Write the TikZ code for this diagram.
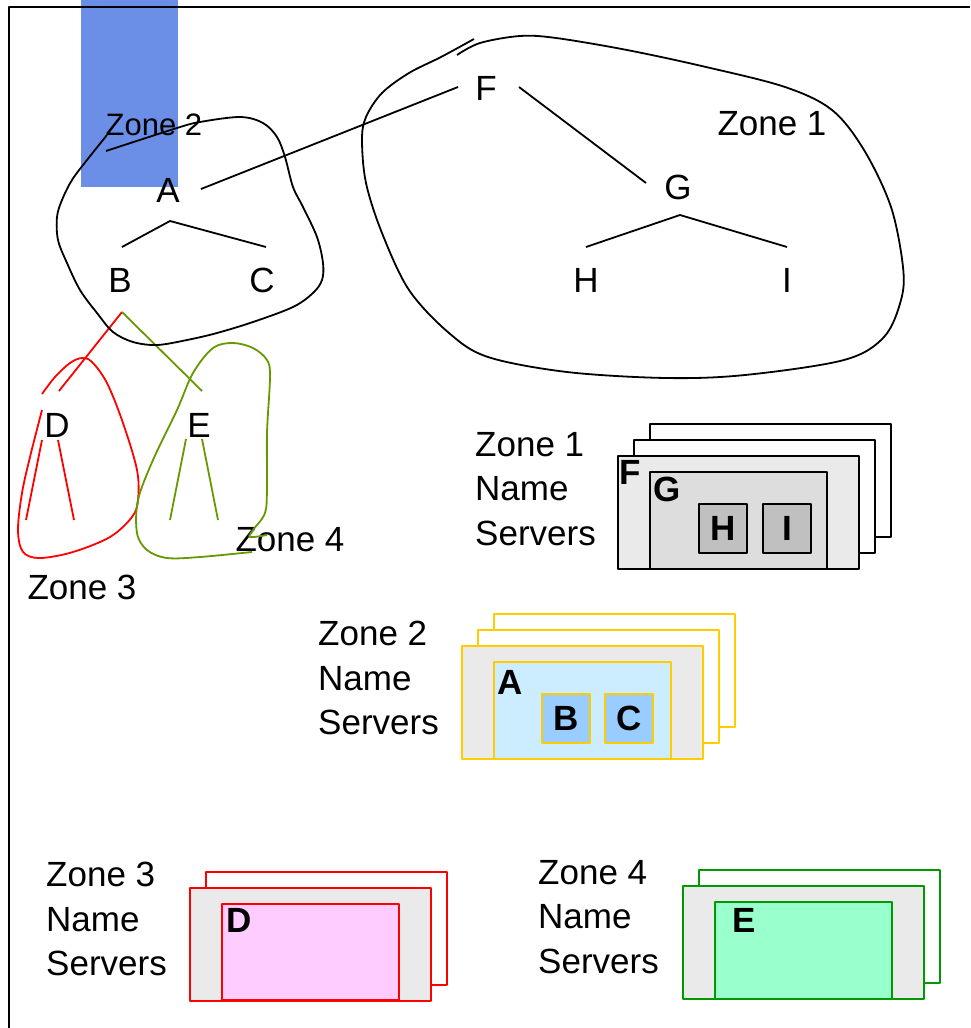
\documentclass[tikz,border=0pt]{standalone}
\usepackage{fontspec}
\setmainfont{Liberation Sans}
\usetikzlibrary{calc,positioning}

\definecolor{zonetwoblue}{RGB}{107,142,230}
\definecolor{panelgray}{RGB}{234,234,234}
\definecolor{ggray}{RGB}{221,221,221}
\definecolor{hgray}{RGB}{192,192,192}
\definecolor{zonegold}{RGB}{255,204,0}
\definecolor{alight}{RGB}{204,236,255}
\definecolor{bcblue}{RGB}{153,204,255}
\definecolor{dpink}{RGB}{255,204,255}
\definecolor{emint}{RGB}{153,255,204}
\definecolor{srvgreen}{RGB}{0,153,0}
\definecolor{treegreen}{RGB}{102,153,0}

\begin{document}
\begin{tikzpicture}[x=1pt, y=-1pt, line join=round,
    letter/.style={inner sep=0pt, font=\fontsize{35}{42}\selectfont},
    stacktext/.style={inner sep=0pt, align=left, anchor=west, font=\fontsize{35}{44.5}\selectfont},
    srv/.style={draw, rectangle, anchor=north west, inner sep=0pt, line width=1.8pt,
        minimum width=241pt, minimum height=113pt},
    zonebox/.style={srv, minimum width=177pt, minimum height=97pt},
    leafbox/.style={srv, minimum width=48pt, minimum height=49pt, font=\fontsize{35}{42}\selectfont\bfseries},
    tag/.style={inner sep=0pt, font=\fontsize{35}{42}\selectfont\bfseries},
    tree/.style={line width=1.8pt},
    blob/.style={line width=1.8pt}]
    \useasboundingbox (0,0) rectangle (970,1028);

    % Background and frame
    \fill[zonetwoblue] (81,0) rectangle (178,187);
    \draw[line width=2pt] (9,1028) -- (9,7) -- (970,7);

    % Tree nodes
    \node[letter] (f) at (486,88) {F};
    \node[letter] (g) at (678,187) {G};
    \node[letter] (h) at (586,280) {H};
    \node[letter] (i) at (787,280) {I};
    \node[letter] (a) at (168,190) {A};
    \node[letter] (b) at (120,280) {B};
    \node[letter] (c) at (262,280) {C};
    \node[letter] (d) at (57,425) {D};
    \node[letter] (e) at (199,425) {E};

    % Zone labels
    \node[letter] (zone1-lbl) at (772,124) {Zone 1};
    \node[letter, font=\fontsize{31}{38}\selectfont] (zone2-lbl) at (154,125) {Zone 2};
    \node[letter] (zone3-lbl) at (82,587) {Zone 3};
    \node[letter] (zone4-lbl) at (290,540) {Zone 4};

    % Tree edges
    \draw[tree] ($(a)+(33,-1)$) -- ($(f)+(-28,-1)$);
    \draw[tree] ($(f)+(33,-1)$) -- ($(g)+(-32,-4)$);
    \draw[tree] ($(b)+(2,-33)$) -- ($(a)+(2,31)$) -- ($(c)+(4,-33)$);
    \draw[tree] ($(h)+(0,-33)$) -- ($(g)+(2,28)$) -- ($(i)+(0,-33)$);
    \draw[tree, red] ($(b)+(2,32)$) -- ($(d)+(2,-34)$);
    \draw[tree, treegreen] ($(b)+(2,32)$) -- ($(e)+(3,-34)$);
    \draw[tree, red] ($(d)+(-15,15)$) -- ($(d)+(-31,95)$);
    \draw[tree, red] ($(d)+(1,15)$) -- ($(d)+(17,95)$);
    \draw[tree, treegreen] ($(e)+(-13,14)$) -- ($(e)+(-29,95)$);
    \draw[tree, treegreen] ($(e)+(3,14)$) -- ($(e)+(19,95)$);

    % Zone outlines
    \draw[blob] plot[smooth, tension=0.55] coordinates {(457,55) (480,43) (520,36) (556,38)
        (627,50) (706,67) (785,87) (832,110) (864,150) (891,207) (903,267) (901,300)
        (884,337) (844,360) (745,375) (666,378) (567,372) (488,357) (449,333) (409,290)
        (382,233) (366,183) (362,140) (366,117) (382,93) (409,73) (441,57) (474,39)};
    \draw[blob] plot[smooth, tension=0.55] coordinates {(106,151) (177,128) (200,122)
        (240,117) (263,123) (277,137) (285,157) (293,187) (303,207) (317,237) (323,263)
        (322,280) (313,293) (293,307) (253,322) (217,333) (187,340) (157,345) (133,342)
        (113,332) (97,313) (80,290) (67,263) (58,240) (57,217) (62,200) (72,180) (87,160)
        (107,135)};
    \draw[blob, red] plot[smooth, tension=0.55] coordinates {(42,394) (55,377) (70,363)
        (82,358) (92,362) (107,383) (123,423) (137,470) (138,500) (132,517) (110,537)
        (73,552) (40,558) (23,552) (18,530) (22,493) (30,457) (42,410)};
    \draw[blob, treegreen] plot[smooth, tension=0.55] coordinates {(252,552) (200,557)
        (167,558) (147,550) (137,533) (138,500) (153,460) (177,410) (193,373) (213,348)
        (233,343) (253,348) (267,360) (270,377) (267,433) (267,487) (265,513) (253,530)
        (250,537) (267,535)};

    % Zone 1 name servers
    \node[stacktext] (z1-text) at (475,489) {Zone 1\\Name\\Servers};
    \coordinate (z1) at (617,455);
    \node[srv, fill=white] (z1-back) at ([shift={(32,-32)}]z1) {};
    \node[srv, fill=white] (z1-mid) at ([shift={(16,-16)}]z1) {};
    \node[srv, fill=panelgray] (z1-front) at (z1) {};
    \node[zonebox, fill=ggray] (z1-g) at ([shift={(32,16)}]z1-front.north west) {};
    \node[leafbox, fill=hgray] (z1-h) at ([shift={(49,32)}]z1-g.north west) {H};
    \node[leafbox, fill=hgray] (z1-i) at ([shift={(113,32)}]z1-g.north west) {I};
    \node[tag] at ([shift={(13,17)}]z1-front.north west) {F};
    \node[tag] at ([shift={(18,18)}]z1-g.north west) {G};

    % Zone 2 name servers
    \node[stacktext] (z2-text) at (318,678) {Zone 2\\Name\\Servers};
    \coordinate (z2) at (461,645);
    \node[srv, draw=zonegold, fill=white] (z2-back) at ([shift={(32,-32)}]z2) {};
    \node[srv, draw=zonegold, fill=white] (z2-mid) at ([shift={(16,-16)}]z2) {};
    \node[srv, draw=zonegold, fill=panelgray] (z2-front) at (z2) {};
    \node[zonebox, draw=zonegold, fill=alight] (z2-a) at ([shift={(32,16)}]z2-front.north west) {};
    \node[leafbox, draw=zonegold, fill=bcblue] (z2-b) at ([shift={(48,32)}]z2-a.north west) {B};
    \node[leafbox, draw=zonegold, fill=bcblue] (z2-c) at ([shift={(111,32)}]z2-a.north west) {C};
    \node[tag] at ([shift={(17,21)}]z2-a.north west) {A};

    % Zone 3 name servers
    \node[stacktext] (z3-text) at (46,919) {Zone 3\\Name\\Servers};
    \coordinate (z3) at (189,887);
    \node[srv, draw=red, fill=white] (z3-back) at ([shift={(16,-16)}]z3) {};
    \node[srv, draw=red, fill=panelgray] (z3-front) at (z3) {};
    \node[zonebox, draw=red, fill=dpink, minimum height=96pt] (z3-d) at ([shift={(32,16)}]z3-front.north west) {};
    \node[tag] at ([shift={(18,17)}]z3-d.north west) {D};

    % Zone 4 name servers
    \node[stacktext] (z4-text) at (538,917) {Zone 4\\Name\\Servers};
    \coordinate (z4) at (682,885);
    \node[srv, draw=srvgreen, fill=white] (z4-back) at ([shift={(16,-16)}]z4) {};
    \node[srv, draw=srvgreen, fill=panelgray] (z4-front) at (z4) {};
    \node[zonebox, draw=srvgreen, fill=emint] (z4-e) at ([shift={(32,16)}]z4-front.north west) {};
    \node[tag] at ([shift={(30,19)}]z4-e.north west) {E};
\end{tikzpicture}
\end{document}
